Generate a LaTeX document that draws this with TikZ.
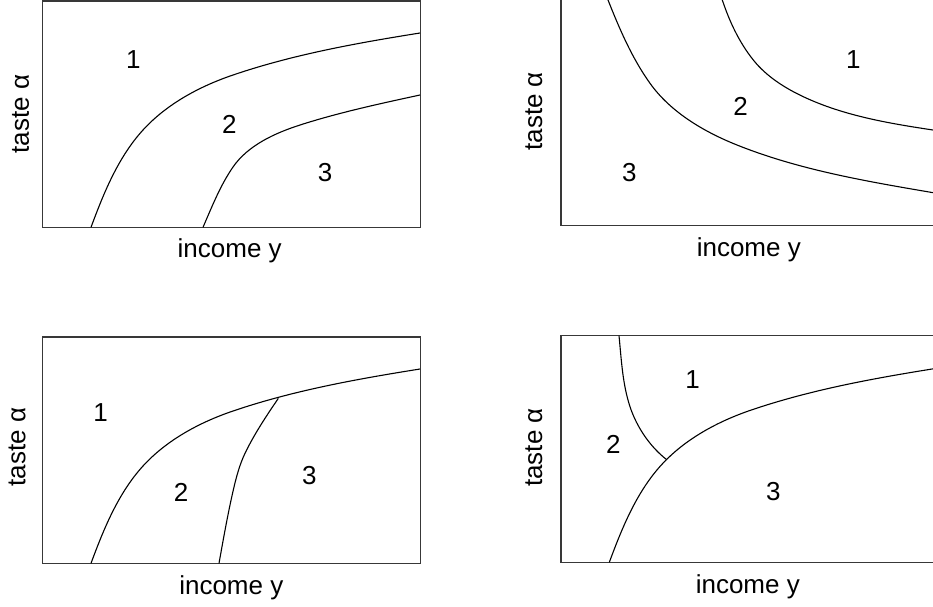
\documentclass[tikz,border=0pt]{standalone}
\usepackage{fontspec}
\setmainfont{Liberation Sans}
\begin{document}
\begin{tikzpicture}[x=1pt,y=-1pt,
  box/.style={draw=black!78, line width=1.4pt},
  crv/.style={draw=black, line width=1.1pt},
  lab/.style={font=\fontsize{26}{30}\selectfont, inner sep=0pt},
  ylab/.style={lab, rotate=90}]
\useasboundingbox (0,0) rectangle (933,606);
\clip (0,0) rectangle (933,606);
% ---------- top left ----------
\draw[box] (42.7,0.8) rectangle (420.7,227.3);
\draw[crv] (91,227.3) .. controls (103.8,192.8) and (118.2,157.2) .. (143,130)
  .. controls (166.7,104) and (199.7,86.3) .. (233,75)
  .. controls (293.3,54.5) and (356.6,43.1) .. (420,33);
\draw[crv] (203,227.3) .. controls (211.9,206.8) and (220.3,185.4) .. (233,167)
  .. controls (248,145.3) and (274.9,133.1) .. (300,125)
  .. controls (339.1,112.5) and (379.3,103.8) .. (420,95);
\node[lab] (tl1) at (133.3,59.3) {1};
\node[lab] (tl2) at (229.3,124) {2};
\node[lab] (tl3) at (325,172.3) {3};
\node[lab, anchor=base] (tlx) at (229.7,257.7) {income y};
\node[ylab] (tly) at (20.5,114) {taste α};
% ---------- top right ----------
\draw[box] (950,-5) -- (561,-5) -- (561,225.7) -- (950,225.7);
\draw[crv] (606.5,-3.7) -- (608,0) .. controls (619.5,28.9) and (631.9,58) .. (650,83.3)
  .. controls (670.7,112.3) and (704,131.8) .. (737,145)
  .. controls (800,170.2) and (868.1,181.6) .. (935,193);
\draw[crv] (721,-3.8) -- (722.3,0) .. controls (729.4,21.4) and (739.2,42.4) .. (753.3,60)
  .. controls (766.2,76.2) and (784.6,87.9) .. (803.3,96.7)
  .. controls (844.3,116) and (890.2,123.6) .. (935,130.3);
\node[lab] (tr1) at (853.3,59.3) {1};
\node[lab] (tr2) at (740.7,106.7) {2};
\node[lab] (tr3) at (629.3,172.3) {3};
\node[lab, anchor=base] (trx) at (748.8,256.7) {income y};
\node[ylab] (try) at (533.8,111.3) {taste α};
% ---------- bottom left ----------
\draw[box] (42.7,337) rectangle (420.7,563.3);
\begin{scope}[shift={(0,336)}]
\draw[crv] (91,227.3) .. controls (103.8,192.8) and (118.2,157.2) .. (143,130)
  .. controls (166.7,104) and (199.7,86.3) .. (233,75)
  .. controls (293.3,54.5) and (356.6,43.1) .. (420,33);
\end{scope}
\coordinate (blj) at (278.3,398.4);
\draw[crv] (blj) .. controls (266.3,416) and (254.3,434) .. (245,453.3)
  .. controls (239.5,464.8) and (236.2,477.5) .. (233.3,490)
  .. controls (227.7,514.3) and (223.4,538.8) .. (219,563.3);
\node[lab] (bl1) at (100.7,412.7) {1};
\node[lab] (bl2) at (181,492.3) {2};
\node[lab] (bl3) at (309.3,476) {3};
\node[lab, anchor=base] (blx) at (231.3,594.7) {income y};
\node[ylab] (bly) at (17.2,447) {taste α};
% ---------- bottom right ----------
\draw[box] (950,335.7) -- (561,335.7) -- (561,562.3) -- (950,562.3);
\begin{scope}[shift={(518.3,335)}]
\draw[crv] (91,227.3) .. controls (103.8,192.8) and (118.2,157.2) .. (143,130)
  .. controls (166.7,104) and (199.7,86.3) .. (233,75)
  .. controls (293.3,54.5) and (356.6,43.1) .. (420,33);
\end{scope}
\coordinate (brj) at (666.5,459.5);
\draw[crv] (619,335.7) .. controls (621.4,359.8) and (622.5,384) .. (630,406.7)
  .. controls (636.9,427.6) and (650.4,447) .. (brj);
\node[lab] (br1) at (692.7,380) {1};
\node[lab] (br2) at (613.3,444.3) {2};
\node[lab] (br3) at (773.3,492) {3};
\node[lab, anchor=base] (brx) at (747.8,593) {income y};
\node[ylab] (bry) at (533.8,447.5) {taste α};
\end{tikzpicture}
\end{document}
